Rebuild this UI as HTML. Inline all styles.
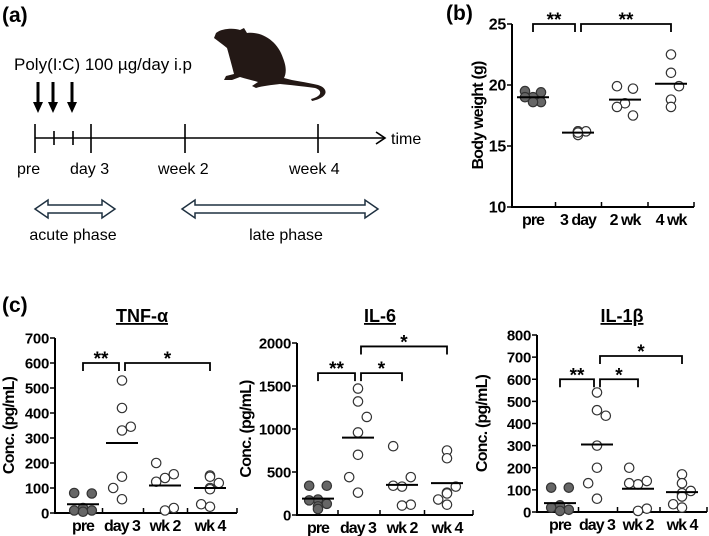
<!DOCTYPE html>
<html><head><meta charset="utf-8">
<style>
body{margin:0;background:#fff;}
svg{display:block;font-family:"Liberation Sans",Arial,sans-serif;}
.b{font-weight:bold;}
</style></head>
<body>
<svg id="fig" width="709" height="536" viewBox="0 0 709 536">
 <g id="panel-a">
  <text x="2" y="22" font-size="21" class="b">(a)</text>
  <text x="14" y="70" font-size="17">Poly(I:C) 100 µg/day i.p</text>
  <path d="M216,33 C222,28 235,28 240,30 L244,28 L247,33 C263,31 278,42 283,58 C287,68 286,74 284,78 C294,81 306,82 318,85 C328,88 330,97 312,101 L311,99 C323,96 322,90 315,88 C300,86 290,85 280,84 C272,85 262,86 256,88 L252,86 L258,82 C252,80 246,79 240,77 L232,80 L224,80 L226,76 L234,74 C232,66 229,55 227,48 C222,44 218,41 214,38 Z" fill="#231815"/>
  <g stroke="#000" stroke-width="3">
   <line x1="38" y1="82" x2="38" y2="106"/><line x1="53" y1="82" x2="53" y2="106"/><line x1="72" y1="82" x2="72" y2="106"/>
  </g>
  <g fill="#000"><polygon points="33,102 43,102 38,113"/><polygon points="48,102 58,102 53,113"/><polygon points="67,102 77,102 72,113"/></g>
  <g stroke="#000" stroke-width="1.6" fill="none">
   <line x1="35" y1="138" x2="384" y2="138"/>
   <polyline points="376,132 385,138 376,144"/>
   <line x1="35" y1="124" x2="35" y2="153"/><line x1="54" y1="131" x2="54" y2="145"/><line x1="73" y1="131" x2="73" y2="145"/><line x1="91" y1="124" x2="91" y2="153"/><line x1="185" y1="124" x2="185" y2="153"/><line x1="318" y1="124" x2="318" y2="153"/>
  </g>
  <g font-size="16">
   <text x="391" y="144">time</text><text x="17" y="174">pre</text><text x="70" y="174">day 3</text><text x="158" y="174">week 2</text><text x="289" y="174">week 4</text>
   <text x="73" y="240" text-anchor="middle">acute phase</text><text x="286" y="240" text-anchor="middle">late phase</text>
  </g>
  <path d="M35,209 L48,200 L48,205 L102,205 L102,200 L115,209 L102,218 L102,213 L48,213 L48,218 Z" fill="#fff" stroke="#1e3040" stroke-width="1.5"/>
  <path d="M182,209 L195,200 L195,205 L365,205 L365,200 L378,209 L365,218 L365,213 L195,213 L195,218 Z" fill="#fff" stroke="#1e3040" stroke-width="1.5"/>
 </g>
 <text x="446" y="20" font-size="21" class="b">(b)</text>
 <text x="2" y="312" font-size="21" class="b">(c)</text>
 <g id="plots"></g>
</svg>
<script>
// Body weight
const bwCats = ["pre","3 day","2 wk","4 wk"];
const bwTicks = [10,15,20,25];
const bwPre = [19.5,19.4,19.0,19.0,18.6,18.6];
const bwD3 = [16.2,16.2,16.2,15.9,16.1];
const bwW2 = [19.9,19.7,18.5,18.2,17.5];
const bwW4 = [22.5,21.0,19.9,18.8,18.2];
const bwMeans = [19.0,16.1,18.8,20.1];
// TNF
const cCats = ["pre","day 3","wk 2","wk 4"];
const tnfTicks = [0,100,200,300,400,500,600,700];
const tnfPre = [80,78,20,10,10,5];
const tnfD3 = [530,420,345,330,145,100,55];
const tnfW2 = [200,155,140,125,20,10];
const tnfW4 = [150,145,120,100,95,35,25];
const tnfMeans = [35,280,110,100];
// IL-6
const il6Ticks = [0,500,1000,1500,2000];
const il6Pre = [340,340,180,170,130,100,70];
const il6D3 = [1470,1320,1140,960,700,440,260];
const il6W2 = [800,440,330,340,120,110];
const il6W4 = [750,660,330,260,250,180,120];
const il6Means = [190,900,350,370];
// IL-1b
const il1Ticks = [0,100,200,300,400,500,600,700,800];
const il1Pre = [110,110,30,20,10,5];
const il1D3 = [540,460,435,300,200,130,60];
const il1W2 = [200,140,125,130,15,5];
const il1W4 = [170,130,95,85,70,35,20];
const il1Means = [40,305,105,90];

const NS="http://www.w3.org/2000/svg";
const root=document.getElementById('plots');
function mk(tag,attrs,parent){const e=document.createElementNS(NS,tag);for(const k in attrs)e.setAttribute(k,attrs[k]);(parent||root).appendChild(e);return e;}
const jit=[[-8,8,0,-8,8,0,0],[0,0,8,0,0,-8,0]];
function plot(cfg){
 const g=mk('g',{});
 
 
 const y=v=>cfg.y0-(v-cfg.vmin)*(cfg.y0-cfg.y1)/(cfg.vmax-cfg.vmin);
 const cx=i=>cfg.cx[i];
 const ax=mk('path',{d:`M${cfg.ax},${y(cfg.vmax)} L${cfg.ax},${cfg.y0} L${cfg.xend},${cfg.y0}`,stroke:'#000','stroke-width':2,fill:'none'},g);
 
 
 cfg.ticks.forEach(t=>{
  mk('line',{x1:cfg.ax-5,x2:cfg.ax,y1:y(t),y2:y(t),stroke:'#000','stroke-width':1.5},g);
  const tx=mk('text',{x:cfg.ax-6,y:y(t)+5.5,'text-anchor':'end','font-size':cfg.fs,'font-weight':'bold','letter-spacing':'-0.3'},g);
  tx.textContent=t;
  
  
 });
 for(let i=1;i<=4;i++){const xx=i<4?(cx(i-1)+cx(i))/2:cfg.xend;mk('line',{x1:xx,x2:xx,y1:cfg.y0,y2:cfg.y0-5,stroke:'#000','stroke-width':1.5},g);}
 cfg.cats.forEach((c,i)=>{
  const t=mk('text',{x:cx(i),y:cfg.y0+18,'text-anchor':'middle','font-size':16,'font-weight':'bold','letter-spacing':'-1'},g);
  t.textContent=c;
  
  
 });
 const yl=mk('text',{transform:`translate(${cfg.ylx},${(cfg.y0+y(cfg.vmax))/2}) rotate(-90)`,'text-anchor':'middle','font-size':16,'font-weight':'bold','letter-spacing':'-0.8'},g);
 yl.textContent=cfg.ylabel;
 
 
 if(cfg.title){
  const tt=mk('text',{x:cfg.tx,y:cfg.ty,'text-anchor':'middle','font-size':18,'font-weight':'bold','text-decoration':'underline'},g);
  tt.textContent=cfg.title;
  
  
 }
 cfg.series.forEach((s,i)=>{
  s.forEach((v,j)=>{
   const d=mk('circle',{cx:cx(i)+jit[i%2][j%7]*cfg.js,cy:y(v),r:4.7,fill:i==0?'#666':'#fff',stroke:'#333','stroke-width':1.2},g);
   
   
  });
  const m=mk('line',{x1:cx(i)-cfg.mw,x2:cx(i)+cfg.mw,y1:y(cfg.means[i]),y2:y(cfg.means[i]),stroke:'#000','stroke-width':2},g);
  
  
 });
 cfg.br.forEach(b=>{
  const x1=cx(b[0])+(b[0]==1?3:0),x2=cx(b[1])-(b[1]==1?3:0),yy=y(b[2]),yd=yy+8;
  const p=mk('path',{d:`M${x1},${yd} L${x1},${yy} L${x2},${yy} L${x2},${yd}`,stroke:'#000','stroke-width':1.8,fill:'none'},g);
  
  
  const s=mk('text',{x:(x1+x2)/2,y:yy+2,'text-anchor':'middle','font-size':19,'font-weight':'bold'},g);
  s.textContent=b[3];
  
  
 });
}
plot({name:'body-weight-chart',cats:bwCats,ticks:bwTicks,vmin:10,vmax:25,y0:207,y1:24,ax:512,xend:694,cx:[533,578,625,671],
 series:[bwPre,bwD3,bwW2,bwW4],means:bwMeans,ylabel:'Body weight (g)',ylx:483,fs:16,js:1,mw:16,
 br:[[0,1,25,'**'],[1,3,25,'**']]});
plot({name:'tnf-chart',cats:cCats,ticks:tnfTicks,vmin:0,vmax:700,y0:513,y1:338,ax:55,xend:237,cx:[83,122,165,210],
 series:[tnfPre,tnfD3,tnfW2,tnfW4],means:tnfMeans,ylabel:'Conc. (pg/mL)',ylx:14,fs:15,js:1.1,mw:16,title:'TNF-α',tx:142,ty:322,
 br:[[0,1,600,'**'],[1,3,600,'*']]});
plot({name:'il6-chart',cats:cCats,ticks:il6Ticks,vmin:0,vmax:2000,y0:515,y1:343,ax:297,xend:473,cx:[318,358,402,447],
 series:[il6Pre,il6D3,il6W2,il6W4],means:il6Means,ylabel:'Conc. (pg/mL)',ylx:251,fs:15,js:1.1,mw:16,title:'IL-6',tx:380,ty:322,
 br:[[0,1,1650,'**'],[1,2,1650,'*'],[1,3,1960,'*']]});
plot({name:'il1b-chart',cats:cCats,ticks:il1Ticks,vmin:0,vmax:800,y0:512,y1:335,ax:537,xend:707,cx:[560,597,638,682],
 series:[il1Pre,il1D3,il1W2,il1W4],means:il1Means,ylabel:'Conc. (pg/mL)',ylx:487,fs:15,js:1.1,mw:16,title:'IL-1β',tx:622,ty:322,
 br:[[0,1,600,'**'],[1,2,600,'*'],[1,3,705,'*']]});
</script>
</body></html>
